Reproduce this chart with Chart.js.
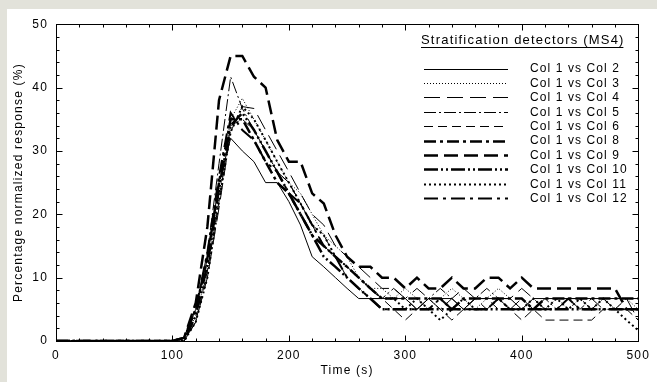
<!DOCTYPE html>
<html>
<head>
<meta charset="utf-8">
<script src="https://cdn.jsdelivr.net/npm/chart.js@4.4.1/dist/chart.umd.min.js"></script>
<style>
  html, body { margin: 0; padding: 0; background: #e2e2da; width: 657px; height: 382px; overflow: hidden; }
  #wrap { position: absolute; left: 7px; top: 9px; width: 650px; height: 373px; background: #ffffff; }
</style>
</head>
<body>
<div id="wrap"><canvas id="c"></canvas></div>
<script>
// ---- Data ----
const times = [0,10,20,30,40,50,60,70,80,90,100,110,120,130,140,150,160,170,180,190,200,
  210,220,230,240,250,260,270,280,290,300,310,320,330,340,350,360,370,380,390,400,
  410,420,430,440,450,460,470,480,490,500];

const seriesNames = ["Col 1 vs Col 2","Col 1 vs Col 3","Col 1 vs Col 4","Col 1 vs Col 5","Col 1 vs Col 6",
  "Col 1 vs Col 8","Col 1 vs Col 9","Col 1 vs Col 10","Col 1 vs Col 11","Col 1 vs Col 12"];

const col2 = [0,0,0,0,0,0,0,0,0,0,0, 0.5,5,13,25,32,30,28.3,25,25,22,
  18.3,13.3,11.7,10,8.3,6.7,6.7,6.7,6.7,6.7, 5,6.7,6.7,6.7,5,6.7,6.7,6.7,6.7,5,
  6.7,6.7,6.7,6.7,6.7,6.7,6.7,6.7,6.7,6.7];
const col3 = [0,0,0,0,0,0,0,0,0,0,0, 0,4,11,23,35,38.3,35,31.7,28.3,25,
  23.3,20,16.7,15,13.3,10,8.3,8.3,6.7,8.3, 6.7,5,6.7,8.3,6.7,5,6.7,8.3,6.7,5,
  6.7,5,6.7,5,6.7,5,6.7,5,6.7,5];
const col4 = [0,0,0,0,0,0,0,0,0,0,0, 0,3,10,21,33,37,36.7,33.3,30,26.7,
  23.3,20,18.3,15,13.3,11.7,10,8.3,8.3,6.7, 8.3,6.7,5,6.7,8.3,6.7,5,6.7,6.7,8.3,
  6.7,5,5,6.7,5,6.7,5,5,6.7,3.3];
const col5 = [0,0,0,0,0,0,0,0,0,0,0, 0.5,5,14,28,41.7,36.7,33.3,30,26.7,25,
  21.7,18.3,16.7,13.3,11.7,10,8.3,6.7,8.3,6.7, 5,6.7,8.3,6.7,5,6.7,8.3,6.7,5,6.7,
  5,6.7,5,6.7,6.7,5,6.7,5,5,5];
const col6 = [0,0,0,0,0,0,0,0,0,0,0, 0,3,11,22,34,35,33.3,30,26.7,25,
  21.7,18.3,15,13.3,10,8.3,6.7,6.7,5,3.3, 5,6.7,5,3.3,5,6.7,6.7,5,5,3.3,
  5,3.3,3.3,3.3,3.3,3.3,5,5,5,3.3];
const col8 = [0,0,0,0,0,0,0,0,0,0,0, 0.5,5,13,25,35,35,31.7,28.3,25,23.3,
  20,16.7,15,13.3,11.7,10,8.3,6.7,6.7,6.7, 6.7,6.7,6.7,5,6.7,6.7,6.7,6.7,6.7,6.7,
  5,6.7,6.7,6.7,6.7,6.7,6.7,6.7,6.7,6.7];
const col9 = [0,0,0,0,0,0,0,0,0,0,0, 0.5,6,18,38,45,45,41.7,40,31.7,28.3,
  28.3,23.3,21.7,16.7,13.3,11.7,11.7,10,10,8.3, 10,8.3,8.3,10,8.3,8.3,10,10,8.3,10,
  8.3,8.3,8.3,8.3,8.3,8.3,8.3,8.3,5,5];
const col10 = [0,0,0,0,0,0,0,0,0,0,0, 0,4,12,24,34,36,33.3,30,26.7,23.3,
  20,16.7,13.3,11.7,10,8.3,6.7,5,5,5, 5,5,5,5,5,5,5,5,5,5,
  5,5,5,5,5,5,5,5,5,5];
const col11 = [0,0,0,0,0,0,0,0,0,0,0, 0,3,10,22,33,37,35,31.7,28.3,25,
  21.7,18.3,16.7,13.3,11.7,10,8.3,6.7,6.7,5, 6.7,5,3.3,5,6.7,5,5,6.7,5,5,
  6.7,5,6.7,5,6.7,5,6.7,5,3.3,1.7];
const col12 = [0,0,0,0,0,0,0,0,0,0,0, 0.5,5,14,26,36,33.3,31.7,28.3,26.7,23.3,
  21.7,18.3,15,13.3,10,8.3,6.7,5,5,5, 5,5,6.7,5,5,5,5,6.7,5,5,
  5,5,5,6.7,5,5,5,5,5,5];

const seriesValues = [col2,col3,col4,col5,col6,col8,col9,col10,col11,col12];

const xTicks = [0,100,200,300,400,500];
const yTicks = [0,10,20,30,40,50];

// ---- Styles ----
const styles = [
  { w: 1,   dash: [] },
  { w: 1,   dash: [1,2] },
  { w: 1,   dash: [16,7] },
  { w: 1,   dash: [12,3,2,3] },
  { w: 1,   dash: [9,5] },
  { w: 2.5, dash: [12,4,3,4] },
  { w: 2.5, dash: [14,6] },
  { w: 2.5, dash: [14,3,2,3,2,3] },
  { w: 2,   dash: [2,3] },
  { w: 2,   dash: [14,5,3,5] }
];

const FONT = "'Liberation Sans', Arial, sans-serif";

const datasets = seriesValues.map((vals, i) => ({
  label: seriesNames[i],
  data: vals.map((v, k) => ({ x: times[k], y: v })),
  borderColor: '#000',
  backgroundColor: '#000',
  borderWidth: styles[i].w,
  borderDash: styles[i].dash,
  pointRadius: 0,
  tension: 0,
  fill: false
}));

const setSpacing = (chart) => { chart.ctx.letterSpacing = '1.2px'; };

const framePlugin = {
  id: 'frame',
  beforeLayout: setSpacing,
  beforeDraw: setSpacing,
  afterDraw(chart) {
    const ctx = chart.ctx, a = chart.chartArea;
    const xs = chart.scales.x, ys = chart.scales.y;
    ctx.save();
    ctx.strokeStyle = '#000';
    ctx.lineWidth = 1;
    ctx.setLineDash([]);
    const L = Math.round(a.left) + 0.5, R = Math.round(a.right) + 0.5;
    const T = Math.round(a.top) + 0.5, B = Math.round(a.bottom) + 0.5;
    ctx.strokeRect(L, T, R - L, B - T);
    ctx.beginPath();
    for (let v = 0; v <= 500; v += 20) {
      const px = Math.round(xs.getPixelForValue(v)) + 0.5;
      const len = (v % 100 === 0) ? 6 : 3;
      ctx.moveTo(px, B); ctx.lineTo(px, B - len);
      ctx.moveTo(px, T); ctx.lineTo(px, T + len);
    }
    for (let v = 0; v <= 50; v += 2) {
      const py = Math.round(ys.getPixelForValue(v)) + 0.5;
      const len = (v % 10 === 0) ? 6 : 3;
      ctx.moveTo(L, py); ctx.lineTo(L + len, py);
      ctx.moveTo(R, py); ctx.lineTo(R - len, py);
    }
    ctx.stroke();

    // legend
    ctx.fillStyle = '#000';
    ctx.textBaseline = 'alphabetic';
    ctx.textAlign = 'left';
    ctx.font = '13px ' + FONT;
    ctx.letterSpacing = '1.2px';
    const title = 'Stratification detectors (MS4)';
    ctx.fillText(title, 414, 35);
    const tw = ctx.measureText(title).width - 1.2;
    ctx.beginPath();
    ctx.moveTo(414, 38.5); ctx.lineTo(414 + tw, 38.5);
    ctx.stroke();
    ctx.font = '12px ' + FONT;
    ctx.letterSpacing = '1.1px';
    ctx.textBaseline = 'middle';
    chart.data.datasets.forEach((ds, i) => {
      const y = 59.5 + i * 14.4;
      ctx.beginPath();
      ctx.lineWidth = ds.borderWidth;
      ctx.setLineDash(ds.borderDash);
      ctx.moveTo(417, Math.round(y) + 0.5);
      ctx.lineTo(501, Math.round(y) + 0.5);
      ctx.stroke();
      ctx.fillText(ds.label, 523, y + 0.5);
    });
    ctx.restore();
  }
};

new Chart(document.getElementById('c'), {
  type: 'line',
  data: { datasets },
  options: {
    responsive: true,
    maintainAspectRatio: false,
    animation: false,
    events: [],
    layout: { padding: { top: 14, right: 17, left: 0, bottom: 0 } },
    plugins: { legend: { display: false }, tooltip: { enabled: false } },
    scales: {
      x: {
        type: 'linear', min: 0, max: 500,
        afterFit(s) { s.height = 41; },
        afterBuildTicks(s) { s.ticks = xTicks.map(v => ({ value: v })); },
        grid: { display: false, drawTicks: false },
        border: { display: true, color: '#000', width: 1 },
        ticks: { color: '#000', padding: 7, maxRotation: 0, font: { family: FONT, size: 12 } },
        title: { display: true, text: 'Time (s)', color: '#000', font: { family: FONT, size: 12 }, padding: { top: 0, bottom: 4 } }
      },
      y: {
        type: 'linear', min: 0, max: 50,
        afterFit(s) { s.width = 49; },
        afterBuildTicks(s) { s.ticks = yTicks.map(v => ({ value: v })); },
        grid: { display: false, drawTicks: false },
        border: { display: true, color: '#000', width: 1 },
        ticks: { color: '#000', padding: 8, font: { family: FONT, size: 12 } },
        title: { display: true, text: 'Percentage normalized response (%)', color: '#000', font: { family: FONT, size: 12 }, padding: { top: 4, bottom: 0 } }
      }
    }
  },
  plugins: [framePlugin]
});
</script>
</body>
</html>
